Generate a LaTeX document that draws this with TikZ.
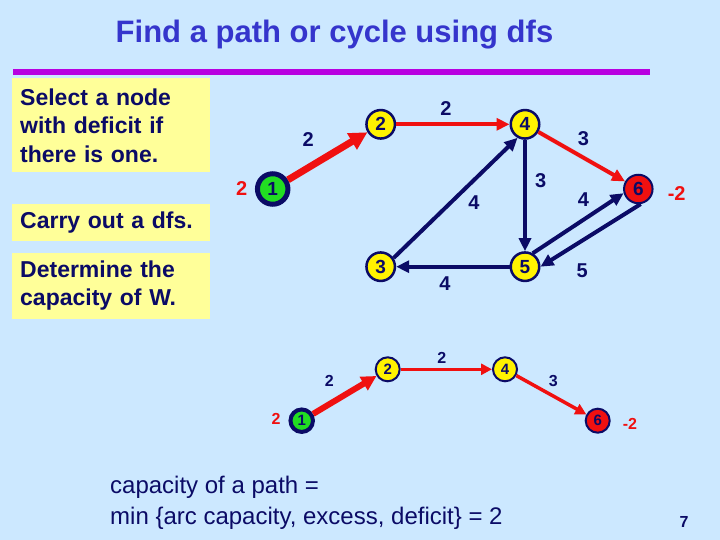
\documentclass[tikz,border=0pt]{standalone}
\usepackage{fontspec}
\setmainfont{Liberation Sans}
\usetikzlibrary{arrows.meta}
\definecolor{slidebg}{HTML}{CCE8FF}
\definecolor{navy}{HTML}{0B0B66}
\definecolor{titleblue}{HTML}{3535CC}
\definecolor{rulepurple}{HTML}{B800E0}
\definecolor{boxyellow}{HTML}{FFFF99}
\definecolor{arcred}{HTML}{F01010}
\definecolor{nodegreen}{HTML}{22DD22}
\tikzset{
  vtx/.style={circle,draw=navy,line width=2.5pt,fill=yellow,minimum size=28.5pt,inner sep=0pt,text=navy,font=\fontsize{19}{19}\selectfont\bfseries},
  srcvtx/.style={vtx,fill=nodegreen,line width=5pt,minimum size=30.5pt},
  sinkvtx/.style={vtx,fill=arcred,line width=2pt},
  svtx/.style={vtx,minimum size=24pt,line width=2pt,font=\fontsize{15}{15}\selectfont\bfseries},
  ssrcvtx/.style={svtx,fill=nodegreen,line width=4pt,minimum size=22.5pt},
  ssinkvtx/.style={svtx,fill=arcred},
  arc/.style={draw=navy,line width=4pt,-{Triangle[length=13pt,width=12pt]}},
  patharc/.style={arc,draw=arcred},
  spatharc/.style={patharc,line width=3.5pt,-{Triangle[length=11pt,width=11pt]}},
  lbl/.style={text=navy,inner sep=0pt,font=\fontsize{20}{20}\selectfont\bfseries},
  slbl/.style={lbl,font=\fontsize{16}{16}\selectfont\bfseries},
  dlbl/.style={lbl,text=arcred},
  sdlbl/.style={slbl,text=arcred},
  infobox/.style={fill=boxyellow,anchor=north west,text width=182pt,inner xsep=8pt,inner ysep=0pt,align=left,text=navy,font=\fontsize{23}{28.5}\selectfont\bfseries}
}
\begin{document}
\begin{tikzpicture}[x=1pt,y=-1pt]
\useasboundingbox (0,0) rectangle (720,540);
\fill[slidebg] (0,0) rectangle (720,540);
\node[anchor=base,text=titleblue,font=\fontsize{31}{31}\selectfont\bfseries] (title) at (334.5,43) {Find a path or cycle using dfs};
\draw[rulepurple,line width=5.3pt] (13,72) -- (650,72);
% hints on the left
\node[infobox,minimum width=198pt,minimum height=94pt] (hint1) at (12,78.3) {Select a node\\with deficit if\\there is one.};
\node[infobox,minimum width=198pt,minimum height=36.7pt] (hint2) at (12,204.3) {Carry out a dfs.};
\node[infobox,minimum width=198pt,minimum height=66pt] (hint3) at (12,252.3) {Determine the\\capacity of W.};
% network
\node[srcvtx] (n1) at (272.7,189) {1};
\node[vtx] (n2) at (380.7,124.3) {2};
\node[vtx] (n4) at (525,124.3) {4};
\node[sinkvtx] (n6) at (638.3,189) {6};
\node[vtx] (n3) at (380.7,266.7) {3};
\node[vtx] (n5) at (525,266.7) {5};
\node[dlbl] (def1) at (241.7,188.3) {2};
\node[dlbl] (def6) at (676.7,193.3) {-2};
\draw[patharc,line width=7pt,-{Triangle[length=18pt,width=18pt]}] (n1) -- (n2) node[lbl,midway,xshift=-19.4pt,yshift=16.7pt] (c12) {2};
\draw[patharc] (n2) -- (n4) node[lbl,midway,xshift=-7pt,yshift=16pt] (c24) {2};
\draw[patharc] (n4) -- (n6) node[lbl,midway,xshift=1.6pt,yshift=18.4pt] (c46) {3};
\draw[arc] (n4) -- (n5) node[lbl,midway,xshift=15.7pt,yshift=14.8pt] (c45) {3};
\draw[arc] (n3.34) -- (n4.241) node[lbl,midway,xshift=18.3pt,yshift=-4.2pt] (c34) {4};
\draw[arc] (n5) -- (n3) node[lbl,midway,xshift=-7.8pt,yshift=-16.6pt] (c53) {4};
\draw[arc] (n5.60) -- (n6.196) node[lbl,midway,xshift=5.2pt,yshift=23.3pt] (c56) {4};
\draw[arc] (n6.279) -- (n5.0) node[lbl,midway,xshift=-8.5pt,yshift=-34.9pt] (c65) {5};
% path W
\node[ssrcvtx] (m1) at (301.7,420.7) {1};
\node[svtx] (m2) at (387.7,369.3) {2};
\node[svtx] (m4) at (505,369.3) {4};
\node[ssinkvtx] (m6) at (597.7,420.7) {6};
\node[sdlbl] (mdef1) at (276,419.3) {2};
\node[sdlbl] (mdef6) at (630,424) {-2};
\draw[spatharc,line width=6pt,-{Triangle[length=15pt,width=15pt]}] (m1) -- (m2) node[slbl,midway,xshift=-15.4pt,yshift=14pt] (w12) {2};
\draw[spatharc] (m2) -- (m4) node[slbl,midway,xshift=-4.6pt,yshift=11.6pt] (w24) {2};
\draw[spatharc] (m4) -- (m6) node[slbl,midway,xshift=2pt,yshift=14.3pt] (w46) {3};
\node[anchor=north west,inner sep=0pt,align=left,text=navy,font=\fontsize{24}{31}\selectfont] (capnote) at (110,475.8) {capacity of a path =\\min \{arc capacity, excess, deficit\} = 2};
\node[text=navy,inner sep=0pt,font=\fontsize{16}{16}\selectfont\bfseries] (pageno) at (684,522) {7};
\end{tikzpicture}
\end{document}
